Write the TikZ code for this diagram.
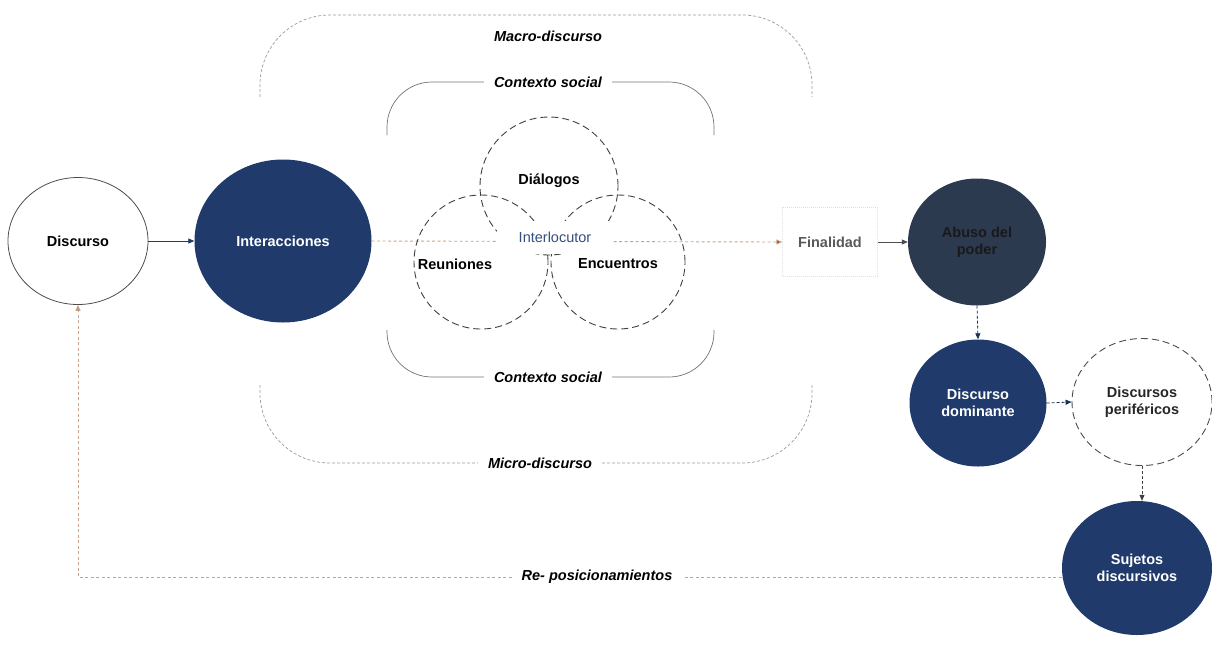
\documentclass[tikz,border=0pt]{standalone}
\usepackage{fontspec}
\setmainfont{Liberation Sans}
\usetikzlibrary{arrows.meta,shapes.geometric}
\definecolor{navy}{HTML}{1F3A6B}
\definecolor{slate}{HTML}{2C3A50}
\definecolor{brownl}{HTML}{C9A389}
\definecolor{brownd}{HTML}{8A4B2A}
\definecolor{grayl}{HTML}{9C9C9C}
\definecolor{ilblue}{HTML}{34507F}
\begin{document}
\begin{tikzpicture}[x=1pt,y=-1pt,
  font=\fontsize{14.5}{17}\selectfont\bfseries,
  ell/.style={ellipse, inner sep=0pt, align=center},
  navyell/.style={ell, fill=navy, text=white},
  venn/.style={circle, draw=black!75, line width=0.9pt, dash pattern=on 7pt off 4pt, minimum size=134pt, inner sep=0pt},
  lab/.style={fill=white, font=\fontsize{14.5}{17}\selectfont\bfseries\itshape, inner xsep=10pt, inner ysep=5pt},
  ctx/.style={draw=black!55, line width=0.7pt},
  mac/.style={draw=grayl, line width=0.7pt, dash pattern=on 3pt off 2pt},
  tip/.style={-{Triangle[length=6pt,width=5pt]}},
  brownline/.style={draw=brownl, line width=0.9pt, dash pattern=on 3pt off 2.5pt},
]
\useasboundingbox (0,0) rectangle (1212,649);

% outer brackets
\draw[mac, rounded corners=70pt] (260,97) -- (260,15) -- (812,15) -- (812,97);
\draw[mac, rounded corners=70pt] (260,385) -- (260,463) -- (812,463) -- (812,385);
\draw[ctx, rounded corners=45pt] (387,135) -- (387,82) -- (714,82) -- (714,135);
\draw[ctx, rounded corners=45pt] (387,330) -- (387,377) -- (714,377) -- (714,330);
\node[lab] (macro) at (548,36) {Macro-discurso};
\node[lab] (micro) at (540,463) {Micro-discurso};
\node[lab] (ctxt) at (548,82) {Contexto social};
\node[lab] (ctxb) at (548,377) {Contexto social};

% nodes
\node[ell, draw=black!70, line width=0.8pt, minimum width=140pt, minimum height=127pt] (disc) at (78,241) {Discurso};
\node[navyell, minimum width=177pt, minimum height=163pt] (inter) at (283,241) {Interacciones};
\node[draw=black!12, dash pattern=on 1pt off 1pt, minimum width=95pt, minimum height=69pt, text=black!65] (fin) at (830,242) {Finalidad};
\node[ell, fill=slate, text=black!90, minimum width=138pt, minimum height=127pt] (abuso) at (977,242) {Abuso del\\poder};
\node[navyell, minimum width=137pt, minimum height=127pt] (dom) at (978,403) {Discurso\\dominante};
\node[ell, draw=black!70, line width=0.9pt, dash pattern=on 7pt off 4pt, minimum width=140pt, minimum height=127pt, text=black!85] (peri) at (1142,402) {Discursos\\periféricos};
\node[navyell, minimum width=150pt, minimum height=134pt] (suj) at (1137,568) {Sujetos\\discursivos};

% brown dashed connector through venn
\draw[brownline, -{Triangle[length=6pt,width=5pt,fill=brownd]}] (inter.east) -- (fin.west);

% venn circles
\node[venn, minimum size=138pt] (dial) at (549,186) {};
\node[venn] (reun) at (481,262) {};
\node[venn] (enc) at (618,262) {};
\node at (549,181) {Diálogos};
\node at (455,264) {Reuniones};
\node at (618,264) {Encuentros};
\node[fill=white, text=ilblue, font=\fontsize{14.5}{17}\selectfont, minimum width=116pt, minimum height=33pt, inner sep=0pt] (interl) at (555,237) {Interlocutor};

% connectors
\draw[navy, line width=0.8pt, tip] (disc.east) -- (inter.west);
\draw[black!70, line width=0.8pt, tip] (fin.east) -- (abuso.west);
\draw[navy!80!black, line width=0.8pt, dash pattern=on 3pt off 2pt, tip] (abuso.south) -- (dom.north);
\draw[navy!80!black, line width=0.8pt, dash pattern=on 3pt off 2pt, tip] (dom.east) -- (peri.west);
\draw[black!75, line width=0.8pt, dash pattern=on 3pt off 2pt, tip] (peri.south) -- (peri.south |- suj.north);
\coordinate (sujin) at ([yshift=-9pt]suj.west);
\draw[brownline, -{Triangle[length=6pt,width=5pt,fill=brownl!80!brownd]}] (sujin) -- (disc.south |- sujin) -- (disc.south);
\node[lab] (reposl) at (597,577) {Re- posicionamientos};
\end{tikzpicture}
\end{document}
